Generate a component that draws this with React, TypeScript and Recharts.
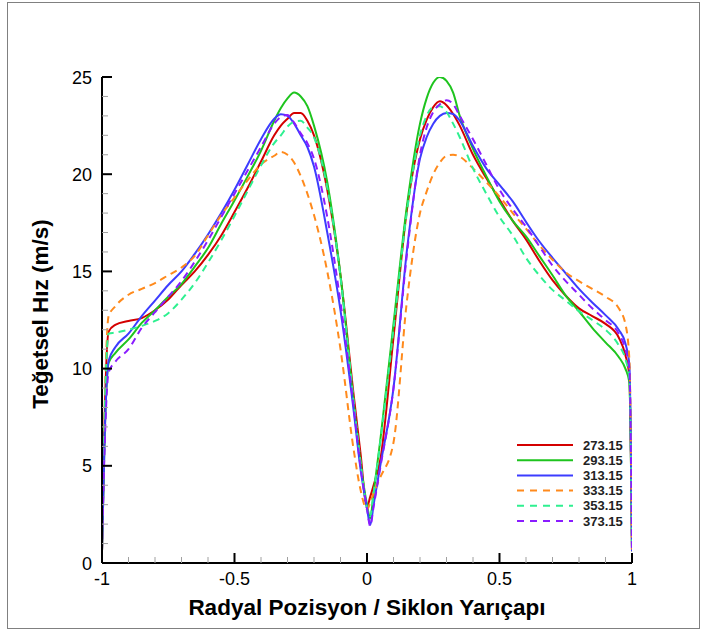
import React from 'react';
import { LineChart, Line, XAxis, YAxis } from 'recharts';

const FONT = '"Liberation Sans", Arial, Helvetica, sans-serif';

// radial position / cyclone radius where the profiles were read
const radialPos = [
  -1, -0.99, -0.975, -0.95, -0.9, -0.85, -0.8, -0.75, -0.7, -0.65,
  -0.6, -0.55, -0.5, -0.45, -0.4, -0.35, -0.325, -0.3, -0.275, -0.25,
  -0.225, -0.2, -0.15, -0.1, -0.05, -0.025, 0, 0.012, 0.025, 0.05,
  0.1, 0.15, 0.2, 0.225, 0.25, 0.275, 0.3, 0.325, 0.35, 0.4,
  0.45, 0.5, 0.55, 0.6, 0.65, 0.7, 0.75, 0.8, 0.85, 0.9,
  0.95, 0.975, 0.99, 1,
];

// tangential velocity (m/s) per temperature
const vt273 = [
  0.6, 7.5, 11.9, 12.25, 12.45, 12.6, 13.0, 13.55, 14.3, 15.0,
  15.85, 16.85, 18.05, 19.3, 20.65, 22.0, 22.5, 22.85, 23.15, 23.15,
  22.75, 22.0, 19.2, 14.8, 8.6, 5.7, 2.9, 3.4, 4.0, 5.3,
  11.6, 18.1, 21.8, 22.8, 23.45, 23.75, 23.55, 23.1, 22.5, 21.0,
  19.8, 18.7, 17.6, 16.65, 15.55, 14.55, 13.75, 13.1, 12.7, 12.3,
  11.6, 10.7, 9.6, 0.6,
];
const vt293 = [
  0.6, 6.5, 10.3, 10.8, 11.5, 12.35, 13.0, 13.7, 14.35, 15.25,
  16.2, 17.45, 18.65, 19.9, 21.2, 22.75, 23.4, 23.9, 24.2, 24.0,
  23.5, 22.5, 19.6, 14.8, 8.2, 5.2, 3.0, 2.3, 3.6, 6.3,
  12.3, 18.3, 22.6, 23.9, 24.7, 25.0, 24.8, 24.2, 23.0, 21.3,
  19.9, 18.6, 17.6, 16.8, 15.8, 14.8, 13.75, 12.95, 12.1, 11.35,
  10.6, 10.0, 9.3, 0.6,
];
const vt313 = [
  0.6, 6.5, 10.4, 11.1, 11.8, 12.7, 13.5, 14.3, 15.0, 15.9,
  16.9, 18.0, 19.2, 20.5, 21.8, 22.85, 23.08, 23.0, 22.6, 22.0,
  21.4, 20.4, 17.0, 13.0, 7.8, 4.9, 2.8, 1.95, 3.0, 5.0,
  9.0, 16.0, 20.8, 21.9, 22.6, 23.0, 23.15, 23.1, 22.75, 21.45,
  20.3, 19.45, 18.6, 17.55, 16.55, 15.7, 14.9, 14.1, 13.4, 12.75,
  12.0, 11.3, 10.2, 0.6,
];
const vt333 = [
  0.6, 8.0, 12.7, 13.2, 13.8, 14.1, 14.4, 14.8, 15.2, 15.8,
  16.85, 17.9, 18.8, 19.7, 20.5, 20.95, 21.15, 21.0, 20.6, 19.9,
  19.0, 17.9, 15.0, 11.0, 5.8, 3.8, 2.75, 3.1, 3.6, 4.4,
  6.2, 13.4, 18.0, 19.1, 20.0, 20.6, 20.95, 21.0, 20.9, 20.3,
  19.6, 18.85, 18.0, 17.2, 16.35, 15.6, 14.95, 14.5, 14.1, 13.7,
  13.1, 12.3, 10.5, 0.6,
];
const vt353 = [
  0.6, 7.5, 11.8, 11.85, 12.0, 12.2, 12.45, 12.85, 13.55, 14.4,
  15.45, 16.6, 17.85, 19.15, 20.45, 21.6, 22.0, 22.45, 22.7, 22.75,
  22.4, 21.9, 19.3, 14.7, 8.3, 5.3, 2.8, 2.4, 3.6, 6.2,
  12.0, 18.0, 22.0, 23.0, 23.45, 23.5, 23.2, 22.6, 21.9, 20.3,
  19.0, 17.8, 16.85, 15.7, 14.8, 14.05, 13.5, 12.95, 12.5, 12.0,
  11.2, 10.5, 9.5, 0.6,
];
const vt373 = [
  0.6, 6.0, 9.8, 10.35, 11.0, 12.1, 12.9, 13.7, 14.5, 15.5,
  16.6, 17.8, 19.0, 20.2, 21.4, 22.6, 22.95, 23.05, 22.65, 22.1,
  21.6, 20.8, 17.8, 13.4, 8.0, 5.0, 2.8, 1.9, 2.9, 4.9,
  9.0, 15.8, 21.0, 22.4, 23.2, 23.6, 23.8, 23.6, 23.0, 21.8,
  20.5, 19.2, 18.2, 17.3, 16.3, 15.3, 14.5, 13.8, 13.1, 12.5,
  11.8, 11.0, 10.0, 0.6,
];

const xTicks = [-1, -0.9, -0.8, -0.7, -0.6, -0.5, -0.4, -0.3, -0.2, -0.1, 0, 0.1, 0.2, 0.3, 0.4, 0.5, 0.6, 0.7, 0.8, 0.9, 1];
const xMajor = [-1, -0.5, 0, 0.5, 1];
const yTicks = [0, 1, 2, 3, 4, 5, 6, 7, 8, 9, 10, 11, 12, 13, 14, 15, 16, 17, 18, 19, 20, 21, 22, 23, 24, 25];
const yMajor = [0, 5, 10, 15, 20, 25];

const seriesList = [
  { key: 't273', label: '273.15', color: '#d40000', dashed: false, values: vt273 },
  { key: 't293', label: '293.15', color: '#1ec41e', dashed: false, values: vt293 },
  { key: 't313', label: '313.15', color: '#3c3cff', dashed: false, values: vt313 },
  { key: 't333', label: '333.15', color: '#ff8a1c', dashed: true, values: vt333 },
  { key: 't353', label: '353.15', color: '#2ef090', dashed: true, values: vt353 },
  { key: 't373', label: '373.15', color: '#8a1cff', dashed: true, values: vt373 },
];

const chartData = radialPos.map((x, i) => {
  const row: any = { x };
  seriesList.forEach(s => { row[s.key] = s.values[i]; });
  return row;
});

const isIn = (list: number[], v: number) => list.some(m => Math.abs(m - v) < 1e-6);

// Tecplot style: ticks point into the plot
const XTick = ({ x, y, payload }: any) => {
  const v = payload.value;
  const major = isIn(xMajor, v);
  return (
    <g>
      <line x1={x} x2={x} y1={y} y2={y - (major ? 10 : 6)}
        stroke={major ? '#000' : '#a0a0a0'} strokeWidth={major ? 2 : 1} />
      {major && (
        <text x={x} y={y + 22} textAnchor="middle" fontSize={18} fontFamily={FONT} fill="#000">
          {String(v)}
        </text>
      )}
    </g>
  );
};

const YTick = ({ x, y, payload }: any) => {
  const v = payload.value;
  const major = isIn(yMajor, v);
  return (
    <g>
      <line x1={x} x2={x + (major ? 10 : 6)} y1={y} y2={y}
        stroke={major ? '#000' : '#a0a0a0'} strokeWidth={major ? 2 : 1} />
      {major && (
        <text x={x - 10} y={y + 6.5} textAnchor="end" fontSize={18} fontFamily={FONT} fill="#000">
          {String(v)}
        </text>
      )}
    </g>
  );
};

export default function App() {
  return (
    <div style={{ position: 'absolute', left: 0, top: 0, width: 705, height: 633, background: '#fff' }}>
      <div style={{
        position: 'absolute', left: 7, top: 2, width: 693, height: 627,
        border: '1px solid #808080', boxSizing: 'border-box'
      }} />
      <div style={{ position: 'absolute', left: 0, top: 0 }}>
        <LineChart
          width={705}
          height={633}
          data={chartData}
          margin={{ top: 77, right: 73, bottom: 30, left: 0 }}
        >
          <XAxis
            dataKey="x"
            type="number"
            domain={[-1, 1]}
            ticks={xTicks}
            interval={0}
            tickSize={0}
            tickMargin={0}
            tickLine={false}
            tick={<XTick />}
            axisLine={{ stroke: '#000', strokeWidth: 2 }}
            height={40}
            allowDataOverflow
          />
          <YAxis
            type="number"
            domain={[0, 25]}
            ticks={yTicks}
            interval={0}
            tickSize={0}
            tickMargin={0}
            tickLine={false}
            tick={<YTick />}
            axisLine={{ stroke: '#000', strokeWidth: 2 }}
            width={102}
            allowDataOverflow
          />
          {seriesList.map(s => (
            <Line
              key={s.key}
              dataKey={s.key}
              type="monotone"
              stroke={s.color}
              strokeWidth={2}
              strokeDasharray={s.dashed ? '7 5' : undefined}
              dot={false}
              activeDot={false}
              isAnimationActive={false}
            />
          ))}
        </LineChart>
      </div>
      <svg width={705} height={633} style={{ position: 'absolute', left: 0, top: 0, pointerEvents: 'none' }}>
        {/* axis titles */}
        <text x={367} y={615} textAnchor="middle" fontSize={22.5} fontWeight="bold" fontFamily={FONT} fill="#000">
          Radyal Pozisyon / Siklon Yarıçapı
        </text>
        <text transform="translate(48,314) rotate(-90)" textAnchor="middle" fontSize={22.5} fontWeight="bold" fontFamily={FONT} fill="#000">
          Teğetsel Hız (m/s)
        </text>
        {/* legend */}
        {seriesList.map((s, i) => {
          const cy = 445 + i * 15.2;
          return (
            <g key={s.key}>
              <line x1={517} x2={573} y1={cy} y2={cy} stroke={s.color} strokeWidth={2}
                strokeDasharray={s.dashed ? '7 6' : undefined} />
              <text x={583} y={cy + 4.5} fontSize={13} fontWeight="bold" fontFamily={FONT} fill="#222">
                {s.label}
              </text>
            </g>
          );
        })}
      </svg>
    </div>
  );
}
